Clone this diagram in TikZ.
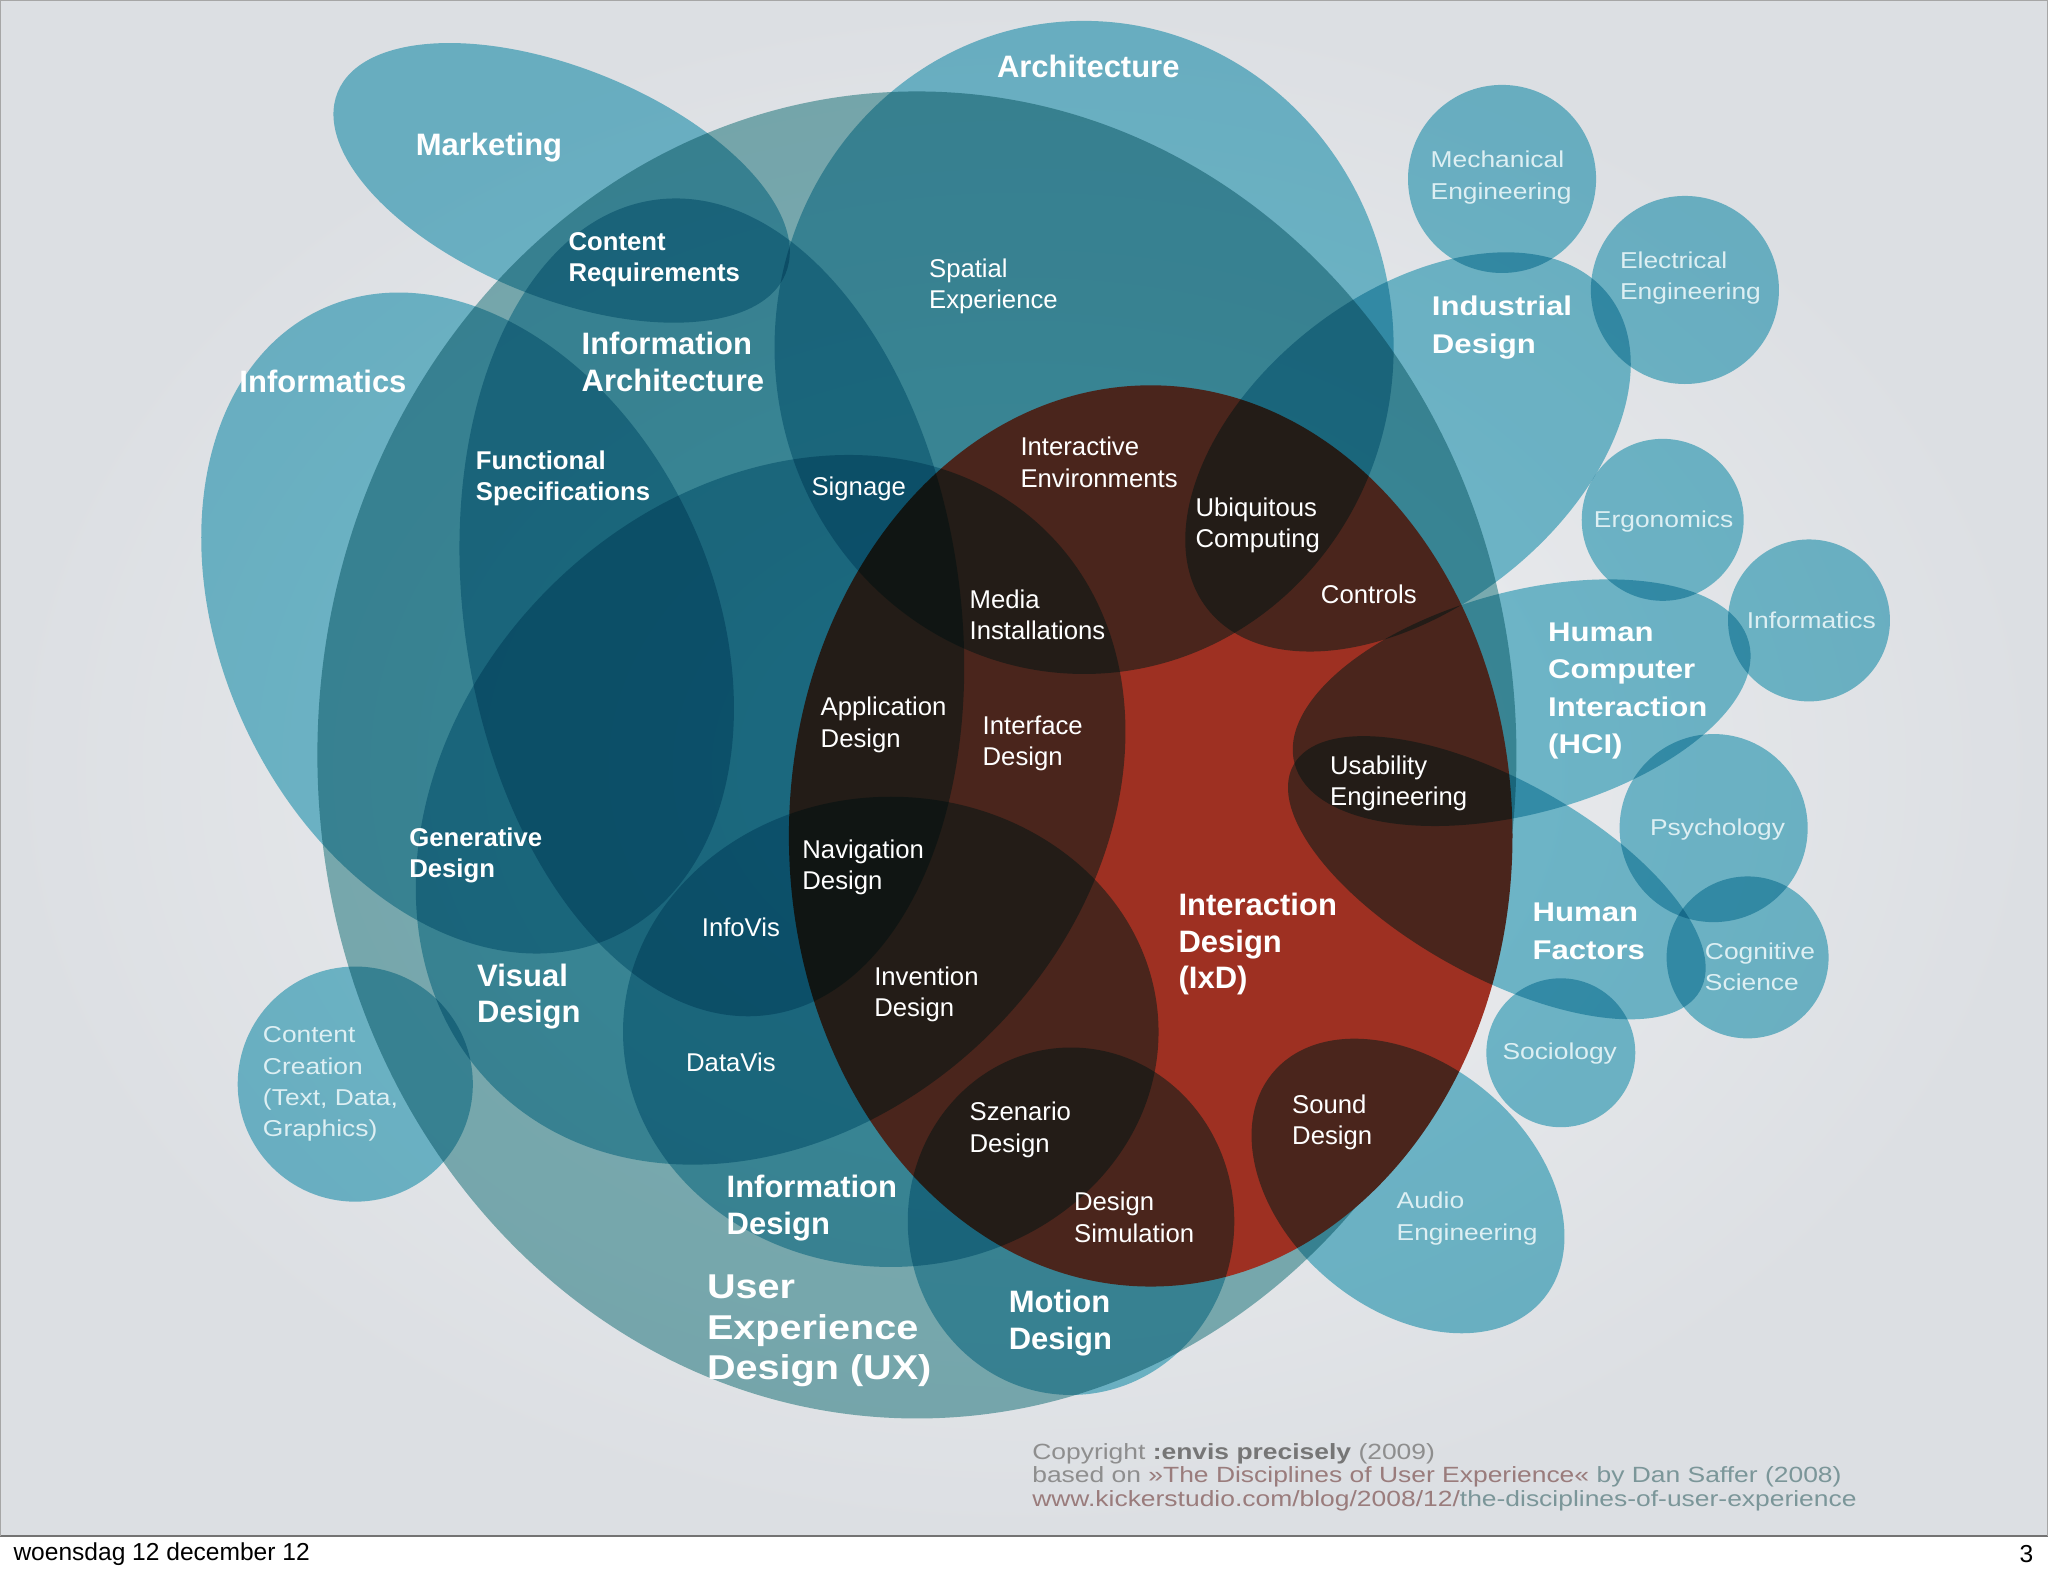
\documentclass[tikz,border=0pt]{standalone}
\usepackage{fontspec}
\setmainfont{Liberation Sans}
\newfontfamily\widefont[FakeStretch=1.15]{Liberation Sans}
\newfontfamily\crfont[FakeStretch=1.2]{Liberation Sans}
\usetikzlibrary{positioning}
\definecolor{slidebg}{HTML}{F0F1F3}
\definecolor{slideedge}{HTML}{DCDFE3}
\definecolor{uxteal}{HTML}{86BBBE}
\definecolor{discteal}{HTML}{79C6D7}
\definecolor{ixdred}{HTML}{9E3022}
\definecolor{lighttxt}{HTML}{DDEFF3}
\definecolor{crgray}{HTML}{8E8E8E}
\definecolor{crdark}{HTML}{767676}
\definecolor{crred}{HTML}{9A7C7C}
\definecolor{crteal}{HTML}{7B9699}

\begin{document}
\begin{tikzpicture}[x=0.02cm,y=-0.02cm,
  disc/.style={fill=discteal,blend mode=multiply},
  uxdisc/.style={fill=uxteal,blend mode=multiply},
  bigtxt/.style={text=white,inner sep=0pt,anchor=west,align=left,font=\fontsize{13.5}{15.9}\selectfont\bfseries},
  midtxt/.style={bigtxt,font=\fontsize{11.2}{13.6}\selectfont\bfseries},
  subtxt/.style={bigtxt,font=\fontsize{11.2}{13.6}\selectfont},
  widetxt/.style={bigtxt,font=\widefont\fontsize{11.8}{16.4}\selectfont\bfseries},
  uxtxt/.style={bigtxt,font=\widefont\fontsize{15}{17.6}\selectfont\bfseries},
  outtxt/.style={bigtxt,text=lighttxt,font=\widefont\fontsize{10}{13.6}\selectfont},
  crtxt/.style={inner sep=0pt,anchor=west,align=left,text=crgray,font=\crfont\fontsize{9.6}{10.2}\selectfont},
  foot/.style={inner sep=0pt,anchor=west,text=black,font=\fontsize{10.7}{12}\selectfont}
  ]
  \useasboundingbox (0,0) rectangle (1568,1207);
  % slide
  \shade[inner color=slidebg,outer color=slideedge] (0,0) rectangle (1568,1176);
  \fill[white] (0,1176) rectangle (1568,1207);
  \draw[black!55,line width=1pt] (0,1176) -- (1568,1176);
  \draw[black!35,line width=0.5pt] (0.4,1176) -- (0.4,0.4) -- (1567.6,0.4) -- (1567.6,1176);

  % UX and IxD
  \fill[uxdisc] (702,578) ellipse [x radius=459,y radius=508];
  \fill[ixdred] (881,640) ellipse [x radius=277,y radius=345];

  % disciplines
  \fill[disc,rotate around={-22:(430,140)}] (430,140) ellipse [x radius=185,y radius=88]; % marketing
  \fill[disc] (830,266) ellipse [x radius=237,y radius=250]; % architecture
  \fill[disc,rotate around={-65:(358,477)}] (358,477) ellipse [x radius=265,y radius=188]; % informatics
  \fill[disc,rotate around={8:(545,465)}] (545,465) ellipse [x radius=190,y radius=315]; % information architecture
  \fill[disc,rotate around={45:(590,620)}] (590,620) ellipse [x radius=300,y radius=240]; % visual design
  \fill[disc] (682,790) ellipse [x radius=205,y radius=180]; % information design
  \fill[disc] (820,935) ellipse [x radius=125,y radius=133]; % motion design
  \fill[disc,rotate around={38:(1078,346)}] (1078,346) ellipse [x radius=195,y radius=120]; % industrial design
  \fill[disc,rotate around={15:(1165,538)}] (1165,538) ellipse [x radius=180,y radius=85]; % hci
  \fill[disc,rotate around={-29:(1146,672)}] (1146,672) ellipse [x radius=178,y radius=75]; % human factors
  \fill[disc,rotate around={-40:(1078,908)}] (1078,908) ellipse [x radius=135,y radius=94]; % audio
  % small circles
  \foreach \cx/\cy/\r in {1150/137/72,1290/222/72,1273/398/62,1385/475/62,1312/634/72,1338/733/62,1195/806/57,272/830/90}
    \fill[disc] (\cx,\cy) circle [radius=\r];

  % main labels
  \node[bigtxt] (mkt) at (318,113) {Marketing};
  \node[bigtxt] (arch) at (763,51) {Architecture};
  \node[bigtxt] (infl) at (183,292) {Informatics};
  \node[bigtxt] (infarch) at (445,277) {Information\\Architecture};
  \node[midtxt] (creq) at (435,199) {Content\\Requirements};
  \node[midtxt] (fspec) at (364,366) {Functional\\Specifications};
  \node[midtxt] (gen) at (313,655) {Generative\\Design};
  \node[bigtxt] (vis) at (365,763) {Visual\\Design};
  \node[bigtxt] (infd) at (556,925) {Information\\Design};
  \node[uxtxt] (ux) at (541,1019) {User\\Experience\\Design (UX)};
  \node[bigtxt] (mot) at (772,1013) {Motion\\Design};
  \node[bigtxt] (ixd) at (902,723) {Interaction\\Design\\(IxD)};
  \node[widetxt] (ind) at (1096,251) {Industrial\\Design};
  \node[widetxt] (hci) at (1185,529) {Human\\Computer\\Interaction\\(HCI)};
  \node[widetxt] (hf) at (1173,713) {Human\\Factors};

  % overlaps
  \node[subtxt] (spx) at (711,219) {Spatial\\Experience};
  \node[subtxt] (sig) at (621,374) {Signage};
  \node[subtxt] (ienv) at (781,354) {Interactive\\Environments};
  \node[subtxt] (ubi) at (915,402) {Ubiquitous\\Computing};
  \node[subtxt] (ctl) at (1011,455) {Controls};
  \node[subtxt] (media) at (742,471) {Media\\Installations};
  \node[subtxt] (app) at (628,555) {Application\\Design};
  \node[subtxt] (iface) at (752,569) {Interface\\Design};
  \node[subtxt] (nav) at (614,664) {Navigation\\Design};
  \node[subtxt] (ivis) at (537,710) {InfoVis};
  \node[subtxt] (inv) at (669,761) {Invention\\Design};
  \node[subtxt] (dvis) at (525,813) {DataVis};
  \node[subtxt] (usab) at (1018,600) {Usability\\Engineering};
  \node[subtxt] (szen) at (742,865) {Szenario\\Design};
  \node[subtxt] (dsim) at (822,932) {Design\\Simulation};
  \node[subtxt] (snd) at (989,859) {Sound\\Design};

  % outer fields
  \node[outtxt] (mech) at (1095,136) {Mechanical\\Engineering};
  \node[outtxt] (elec) at (1240,213) {Electrical\\Engineering};
  \node[outtxt] (ergo) at (1220,399) {Ergonomics};
  \node[outtxt] (infr) at (1337,475) {Informatics};
  \node[outtxt] (psy) at (1263,635) {Psychology};
  \node[outtxt] (cog) at (1305,740) {Cognitive\\Science};
  \node[outtxt] (soc) at (1150,807) {Sociology};
  \node[outtxt] (ccr) at (201,830) {Content\\Creation\\(Text, Data,\\Graphics)};
  \node[outtxt] (aud) at (1069,933) {Audio\\Engineering};

  % credits and footer
  \node[crtxt] (cr) at (790,1131) {Copyright \textcolor{crdark}{\bfseries :envis precisely} (2009)\\
    based on \textcolor{crred}{\guillemotright The Disciplines of User Experience\guillemotleft} \textcolor{crteal}{by Dan Saffer (2008)}\\
    \textcolor{crred}{www.kickerstudio.com/blog/2008/12/}\textcolor{crteal}{the-disciplines-of-user-experience}};
  \node[foot] (date) at (10,1190) {woensdag 12 december 12};
  \node[foot,anchor=east] (page) at (1557,1190) {3};
\end{tikzpicture}
\end{document}
